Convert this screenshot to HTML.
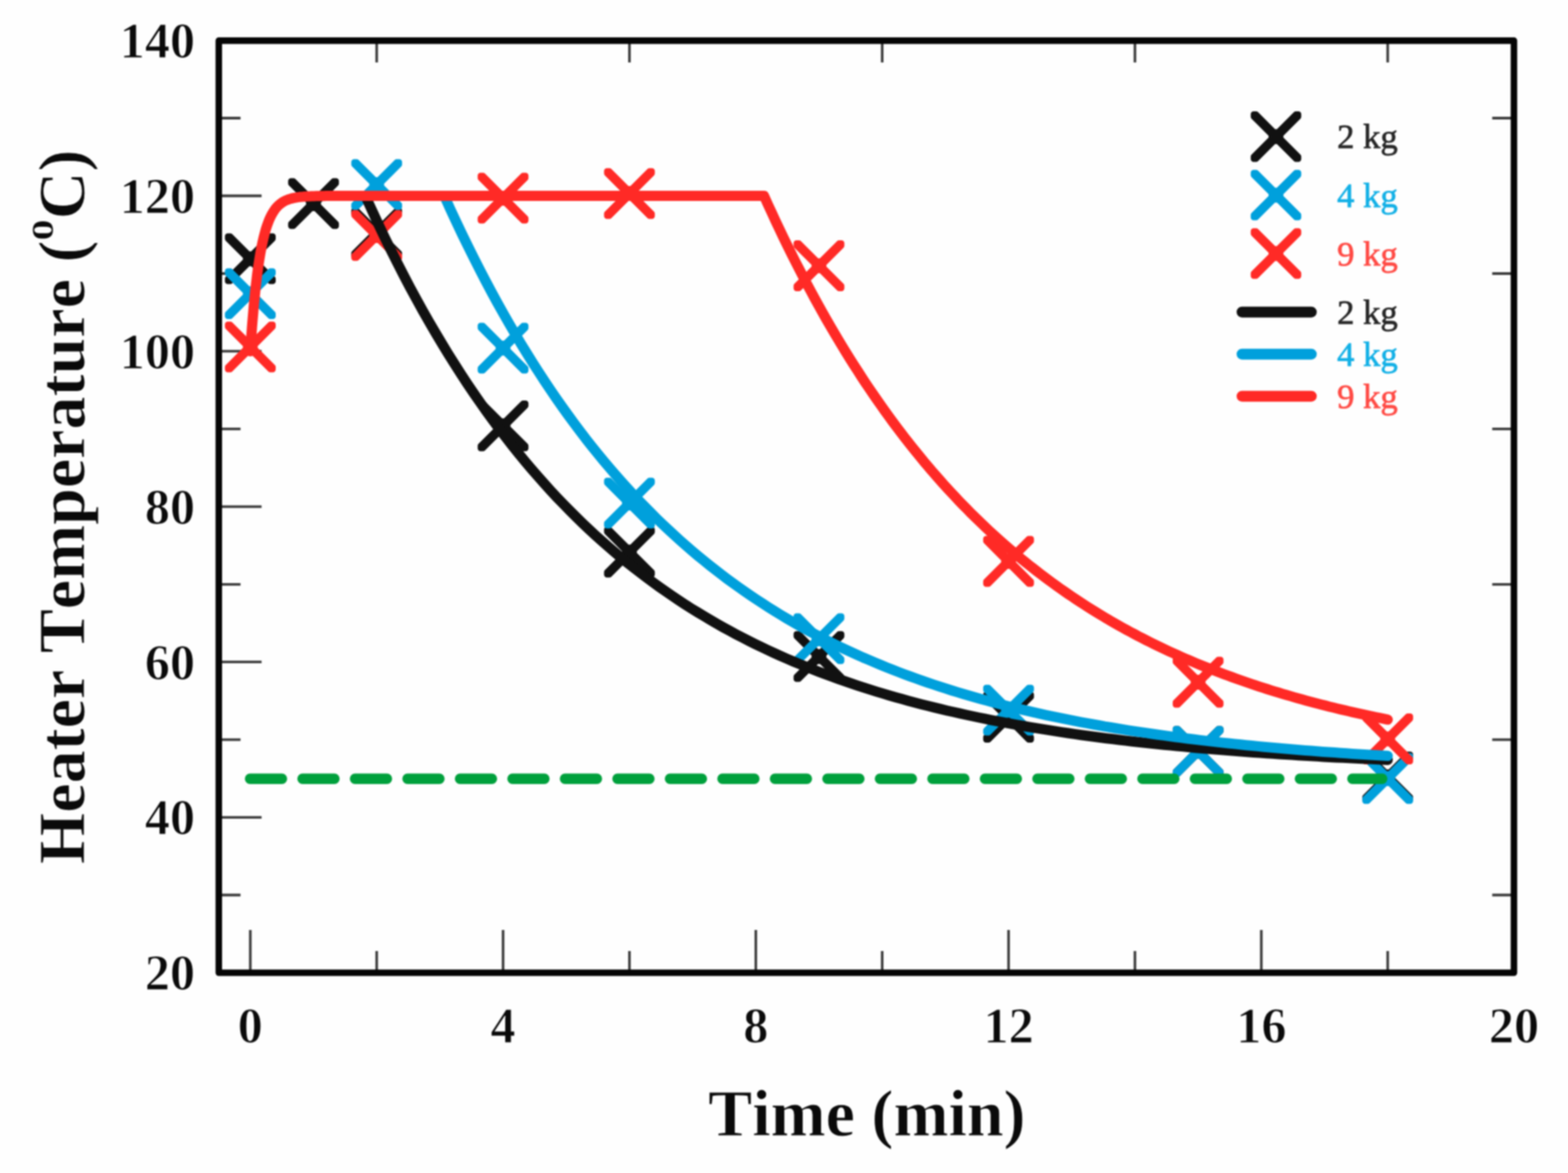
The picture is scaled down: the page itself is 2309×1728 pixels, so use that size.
<!DOCTYPE html>
<html lang="en"><head><meta charset="utf-8"><title>Heater Temperature vs Time</title>
<style>html,body{margin:0;padding:0;background:#fefefe;}body{width:2309px;height:1728px;overflow:hidden;}svg{display:block;filter:blur(0.9px);}text{font-family:"Liberation Serif","Times New Roman",serif;font-kerning:none;}</style>
</head><body>
<svg width="2309" height="1728" viewBox="0 0 2309 1728">
<rect x="0" y="0" width="2309" height="1728" fill="#fefefe"/>
<g stroke="#3a3a3a" stroke-width="3.8" fill="none">
<path d="M368.6,1433.0 V1370.0"/>
<path d="M554.7,1433.0 V1401.0 M554.7,59.9 V91.9"/>
<path d="M740.8,1433.0 V1370.0"/>
<path d="M926.9,1433.0 V1401.0 M926.9,59.9 V91.9"/>
<path d="M1113.0,1433.0 V1370.0"/>
<path d="M1299.1,1433.0 V1401.0 M1299.1,59.9 V91.9"/>
<path d="M1485.2,1433.0 V1370.0"/>
<path d="M1671.3,1433.0 V1401.0 M1671.3,59.9 V91.9"/>
<path d="M1857.4,1433.0 V1370.0"/>
<path d="M2043.5,1433.0 V1401.0 M2043.5,59.9 V91.9"/>
<path d="M322.2,1318.5 H354.2 M2229.4,1318.5 H2197.4"/>
<path d="M322.2,1204.1 H385.2"/>
<path d="M322.2,1089.7 H354.2 M2229.4,1089.7 H2197.4"/>
<path d="M322.2,975.2 H385.2"/>
<path d="M322.2,860.8 H354.2 M2229.4,860.8 H2197.4"/>
<path d="M322.2,746.3 H385.2"/>
<path d="M322.2,631.9 H354.2 M2229.4,631.9 H2197.4"/>
<path d="M322.2,517.4 H385.2"/>
<path d="M322.2,403.0 H354.2 M2229.4,403.0 H2197.4"/>
<path d="M322.2,288.5 H385.2"/>
<path d="M322.2,174.0 H354.2 M2229.4,174.0 H2197.4"/>
</g>
<g fill="#111111" stroke="#111111" stroke-width="8.4" stroke-linejoin="round">
<path d="M335.4,348.0 L339.1,348.0 L401.8,410.7 L401.8,414.4 L398.1,414.4 L335.4,351.7Z M401.8,348.0 L401.8,351.7 L339.1,414.4 L335.4,414.4 L335.4,410.7 L398.1,348.0Z M361.8,381.2 a6.8,6.8 0 1,1 13.6,0 a6.8,6.8 0 1,1 -13.6,0Z"/>
<path d="M428.5,266.7 L432.1,266.7 L494.9,329.5 L494.9,333.1 L491.2,333.1 L428.5,270.4Z M494.9,266.7 L494.9,270.4 L432.1,333.1 L428.5,333.1 L428.5,329.5 L491.2,266.7Z M454.9,299.9 a6.8,6.8 0 1,1 13.6,0 a6.8,6.8 0 1,1 -13.6,0Z"/>
<path d="M521.5,310.2 L525.2,310.2 L587.9,373.0 L587.9,376.6 L584.2,376.6 L521.5,313.9Z M587.9,310.2 L587.9,313.9 L525.2,376.6 L521.5,376.6 L521.5,373.0 L584.2,310.2Z M547.9,343.4 a6.8,6.8 0 1,1 13.6,0 a6.8,6.8 0 1,1 -13.6,0Z"/>
<path d="M707.6,594.1 L711.3,594.1 L774.0,656.8 L774.0,660.5 L770.3,660.5 L707.6,597.7Z M774.0,594.1 L774.0,597.7 L711.3,660.5 L707.6,660.5 L707.6,656.8 L770.3,594.1Z M734.0,627.3 a6.8,6.8 0 1,1 13.6,0 a6.8,6.8 0 1,1 -13.6,0Z"/>
<path d="M893.7,780.1 L897.4,780.1 L960.1,842.8 L960.1,846.5 L956.4,846.5 L893.7,783.7Z M960.1,780.1 L960.1,783.7 L897.4,846.5 L893.7,846.5 L893.7,842.8 L956.4,780.1Z M920.1,813.3 a6.8,6.8 0 1,1 13.6,0 a6.8,6.8 0 1,1 -13.6,0Z"/>
<path d="M1172.8,934.0 L1176.5,934.0 L1239.2,996.7 L1239.2,1000.4 L1235.6,1000.4 L1172.8,937.6Z M1239.2,934.0 L1239.2,937.6 L1176.5,1000.4 L1172.8,1000.4 L1172.8,996.7 L1235.6,934.0Z M1199.2,967.2 a6.8,6.8 0 1,1 13.6,0 a6.8,6.8 0 1,1 -13.6,0Z"/>
<path d="M1452.0,1023.3 L1455.7,1023.3 L1518.4,1086.0 L1518.4,1089.7 L1514.7,1089.7 L1452.0,1026.9Z M1518.4,1023.3 L1518.4,1026.9 L1455.7,1089.7 L1452.0,1089.7 L1452.0,1086.0 L1514.7,1023.3Z M1478.4,1056.5 a6.8,6.8 0 1,1 13.6,0 a6.8,6.8 0 1,1 -13.6,0Z"/>
<path d="M1731.1,1073.6 L1734.8,1073.6 L1797.5,1136.4 L1797.5,1140.0 L1793.9,1140.0 L1731.1,1077.3Z M1797.5,1073.6 L1797.5,1077.3 L1734.8,1140.0 L1731.1,1140.0 L1731.1,1136.4 L1793.9,1073.6Z M1757.5,1106.8 a6.8,6.8 0 1,1 13.6,0 a6.8,6.8 0 1,1 -13.6,0Z"/>
<path d="M2010.3,1111.4 L2014.0,1111.4 L2076.7,1174.1 L2076.7,1177.8 L2073.0,1177.8 L2010.3,1115.0Z M2076.7,1111.4 L2076.7,1115.0 L2014.0,1177.8 L2010.3,1177.8 L2010.3,1174.1 L2073.0,1111.4Z M2036.7,1144.6 a6.8,6.8 0 1,1 13.6,0 a6.8,6.8 0 1,1 -13.6,0Z"/>
</g>
<g fill="#00a0dc" stroke="#00a0dc" stroke-width="8.4" stroke-linejoin="round">
<path d="M335.4,399.5 L339.1,399.5 L401.8,462.2 L401.8,465.9 L398.1,465.9 L335.4,403.2Z M401.8,399.5 L401.8,403.2 L339.1,465.9 L335.4,465.9 L335.4,462.2 L398.1,399.5Z M361.8,432.7 a6.8,6.8 0 1,1 13.6,0 a6.8,6.8 0 1,1 -13.6,0Z"/>
<path d="M521.5,238.7 L525.2,238.7 L587.9,301.4 L587.9,305.1 L584.2,305.1 L521.5,242.4Z M587.9,238.7 L587.9,242.4 L525.2,305.1 L521.5,305.1 L521.5,301.4 L584.2,238.7Z M547.9,271.9 a6.8,6.8 0 1,1 13.6,0 a6.8,6.8 0 1,1 -13.6,0Z"/>
<path d="M707.6,479.6 L711.3,479.6 L774.0,542.4 L774.0,546.0 L770.3,546.0 L707.6,483.3Z M774.0,479.6 L774.0,483.3 L711.3,546.0 L707.6,546.0 L707.6,542.4 L770.3,479.6Z M734.0,512.8 a6.8,6.8 0 1,1 13.6,0 a6.8,6.8 0 1,1 -13.6,0Z"/>
<path d="M893.7,707.9 L897.4,707.9 L960.1,770.7 L960.1,774.3 L956.4,774.3 L893.7,711.6Z M960.1,707.9 L960.1,711.6 L897.4,774.3 L893.7,774.3 L893.7,770.7 L956.4,707.9Z M920.1,741.1 a6.8,6.8 0 1,1 13.6,0 a6.8,6.8 0 1,1 -13.6,0Z"/>
<path d="M1172.8,907.7 L1176.5,907.7 L1239.2,970.4 L1239.2,974.1 L1235.6,974.1 L1172.8,911.3Z M1239.2,907.7 L1239.2,911.3 L1176.5,974.1 L1172.8,974.1 L1172.8,970.4 L1235.6,907.7Z M1199.2,940.9 a6.8,6.8 0 1,1 13.6,0 a6.8,6.8 0 1,1 -13.6,0Z"/>
<path d="M1452.0,1013.0 L1455.7,1013.0 L1518.4,1075.7 L1518.4,1079.4 L1514.7,1079.4 L1452.0,1016.6Z M1518.4,1013.0 L1518.4,1016.6 L1455.7,1079.4 L1452.0,1079.4 L1452.0,1075.7 L1514.7,1013.0Z M1478.4,1046.2 a6.8,6.8 0 1,1 13.6,0 a6.8,6.8 0 1,1 -13.6,0Z"/>
<path d="M1731.1,1073.6 L1734.8,1073.6 L1797.5,1136.4 L1797.5,1140.0 L1793.9,1140.0 L1731.1,1077.3Z M1797.5,1073.6 L1797.5,1077.3 L1734.8,1140.0 L1731.1,1140.0 L1731.1,1136.4 L1793.9,1073.6Z M1757.5,1106.8 a6.8,6.8 0 1,1 13.6,0 a6.8,6.8 0 1,1 -13.6,0Z"/>
<path d="M2010.3,1113.7 L2014.0,1113.7 L2076.7,1176.4 L2076.7,1180.1 L2073.0,1180.1 L2010.3,1117.3Z M2076.7,1113.7 L2076.7,1117.3 L2014.0,1180.1 L2010.3,1180.1 L2010.3,1176.4 L2073.0,1113.7Z M2036.7,1146.9 a6.8,6.8 0 1,1 13.6,0 a6.8,6.8 0 1,1 -13.6,0Z"/>
</g>
<g fill="#ff2a26" stroke="#ff2a26" stroke-width="8.4" stroke-linejoin="round">
<path d="M335.4,477.9 L339.1,477.9 L401.8,540.6 L401.8,544.3 L398.1,544.3 L335.4,481.6Z M401.8,477.9 L401.8,481.6 L339.1,544.3 L335.4,544.3 L335.4,540.6 L398.1,477.9Z M361.8,511.1 a6.8,6.8 0 1,1 13.6,0 a6.8,6.8 0 1,1 -13.6,0Z"/>
<path d="M521.5,313.7 L525.2,313.7 L587.9,376.4 L587.9,380.1 L584.2,380.1 L521.5,317.3Z M587.9,313.7 L587.9,317.3 L525.2,380.1 L521.5,380.1 L521.5,376.4 L584.2,313.7Z M547.9,346.9 a6.8,6.8 0 1,1 13.6,0 a6.8,6.8 0 1,1 -13.6,0Z"/>
<path d="M707.6,258.7 L711.3,258.7 L774.0,321.5 L774.0,325.1 L770.3,325.1 L707.6,262.4Z M774.0,258.7 L774.0,262.4 L711.3,325.1 L707.6,325.1 L707.6,321.5 L770.3,258.7Z M734.0,291.9 a6.8,6.8 0 1,1 13.6,0 a6.8,6.8 0 1,1 -13.6,0Z"/>
<path d="M893.7,251.9 L897.4,251.9 L960.1,314.6 L960.1,318.3 L956.4,318.3 L893.7,255.5Z M960.1,251.9 L960.1,255.5 L897.4,318.3 L893.7,318.3 L893.7,314.6 L956.4,251.9Z M920.1,285.1 a6.8,6.8 0 1,1 13.6,0 a6.8,6.8 0 1,1 -13.6,0Z"/>
<path d="M1172.8,358.3 L1176.5,358.3 L1239.2,421.0 L1239.2,424.7 L1235.6,424.7 L1172.8,362.0Z M1239.2,358.3 L1239.2,362.0 L1176.5,424.7 L1172.8,424.7 L1172.8,421.0 L1235.6,358.3Z M1199.2,391.5 a6.8,6.8 0 1,1 13.6,0 a6.8,6.8 0 1,1 -13.6,0Z"/>
<path d="M1452.0,793.8 L1455.7,793.8 L1518.4,856.5 L1518.4,860.2 L1514.7,860.2 L1452.0,797.4Z M1518.4,793.8 L1518.4,797.4 L1455.7,860.2 L1452.0,860.2 L1452.0,856.5 L1514.7,793.8Z M1478.4,827.0 a6.8,6.8 0 1,1 13.6,0 a6.8,6.8 0 1,1 -13.6,0Z"/>
<path d="M1731.1,971.8 L1734.8,971.8 L1797.5,1034.5 L1797.5,1038.2 L1793.9,1038.2 L1731.1,975.4Z M1797.5,971.8 L1797.5,975.4 L1734.8,1038.2 L1731.1,1038.2 L1731.1,1034.5 L1793.9,971.8Z M1757.5,1005.0 a6.8,6.8 0 1,1 13.6,0 a6.8,6.8 0 1,1 -13.6,0Z"/>
<path d="M2010.3,1055.3 L2014.0,1055.3 L2076.7,1118.0 L2076.7,1121.7 L2073.0,1121.7 L2010.3,1059.0Z M2076.7,1055.3 L2076.7,1059.0 L2014.0,1121.7 L2010.3,1121.7 L2010.3,1118.0 L2073.0,1055.3Z M2036.7,1088.5 a6.8,6.8 0 1,1 13.6,0 a6.8,6.8 0 1,1 -13.6,0Z"/>
</g>
<g fill="none" stroke-width="15.0" stroke-linecap="round" stroke-linejoin="round">
<path stroke="#111111" d="M538.0,288.5 L547.4,309.2 L556.8,329.5 L566.2,349.2 L575.6,368.4 L585.0,387.2 L594.4,405.5 L603.8,423.4 L613.2,440.8 L622.6,457.8 L632.0,474.4 L641.5,490.6 L650.9,506.4 L660.3,521.8 L669.7,536.8 L679.1,551.5 L688.5,565.8 L697.9,579.7 L707.3,593.3 L716.7,606.6 L726.1,619.5 L735.6,632.2 L745.0,644.5 L754.4,656.5 L763.8,668.2 L773.2,679.7 L782.6,690.8 L792.0,701.7 L801.4,712.3 L810.8,722.7 L820.2,732.8 L829.7,742.6 L839.1,752.3 L848.5,761.6 L857.9,770.8 L867.3,779.7 L876.7,788.4 L886.1,796.9 L895.5,805.2 L904.9,813.3 L914.3,821.2 L923.7,828.9 L933.2,836.4 L942.6,843.7 L952.0,850.8 L961.4,857.8 L970.8,864.6 L980.2,871.2 L989.6,877.7 L999.0,884.0 L1008.4,890.2 L1017.8,896.2 L1027.3,902.0 L1036.7,907.7 L1046.1,913.3 L1055.5,918.8 L1064.9,924.1 L1074.3,929.2 L1083.7,934.3 L1093.1,939.2 L1102.5,944.0 L1111.9,948.7 L1121.4,953.3 L1130.8,957.7 L1140.2,962.1 L1149.6,966.3 L1159.0,970.5 L1168.4,974.5 L1177.8,978.4 L1187.2,982.3 L1196.6,986.0 L1206.0,989.7 L1215.4,993.3 L1224.9,996.7 L1234.3,1000.1 L1243.7,1003.4 L1253.1,1006.7 L1262.5,1009.8 L1271.9,1012.9 L1281.3,1015.9 L1290.7,1018.8 L1300.1,1021.7 L1309.5,1024.5 L1319.0,1027.2 L1328.4,1029.8 L1337.8,1032.4 L1347.2,1034.9 L1356.6,1037.4 L1366.0,1039.8 L1375.4,1042.1 L1384.8,1044.4 L1394.2,1046.7 L1403.6,1048.8 L1413.1,1050.9 L1422.5,1053.0 L1431.9,1055.0 L1441.3,1057.0 L1450.7,1058.9 L1460.1,1060.8 L1469.5,1062.6 L1478.9,1064.4 L1488.3,1066.1 L1497.7,1067.8 L1507.1,1069.5 L1516.6,1071.1 L1526.0,1072.7 L1535.4,1074.2 L1544.8,1075.7 L1554.2,1077.2 L1563.6,1078.6 L1573.0,1080.0 L1582.4,1081.4 L1591.8,1082.7 L1601.2,1084.0 L1610.7,1085.2 L1620.1,1086.5 L1629.5,1087.7 L1638.9,1088.8 L1648.3,1090.0 L1657.7,1091.1 L1667.1,1092.2 L1676.5,1093.2 L1685.9,1094.3 L1695.3,1095.3 L1704.8,1096.2 L1714.2,1097.2 L1723.6,1098.1 L1733.0,1099.1 L1742.4,1099.9 L1751.8,1100.8 L1761.2,1101.7 L1770.6,1102.5 L1780.0,1103.3 L1789.4,1104.1 L1798.8,1104.8 L1808.3,1105.6 L1817.7,1106.3 L1827.1,1107.0 L1836.5,1107.7 L1845.9,1108.4 L1855.3,1109.1 L1864.7,1109.7 L1874.1,1110.3 L1883.5,1111.0 L1892.9,1111.6 L1902.4,1112.1 L1911.8,1112.7 L1921.2,1113.3 L1930.6,1113.8 L1940.0,1114.3 L1949.4,1114.9 L1958.8,1115.4 L1968.2,1115.9 L1977.6,1116.3 L1987.0,1116.8 L1996.5,1117.3 L2005.9,1117.7 L2015.3,1118.1 L2024.7,1118.6 L2034.1,1119.0 L2043.5,1119.4"/>
<path stroke="#00a0dc" d="M654.3,288.5 L662.9,307.7 L671.6,326.4 L680.3,344.7 L689.0,362.5 L697.7,380.0 L706.4,397.1 L715.0,413.8 L723.7,430.1 L732.4,446.1 L741.1,461.6 L749.8,476.9 L758.5,491.8 L767.1,506.3 L775.8,520.5 L784.5,534.5 L793.2,548.0 L801.9,561.3 L810.6,574.3 L819.2,587.0 L827.9,599.4 L836.6,611.5 L845.3,623.4 L854.0,634.9 L862.6,646.3 L871.3,657.3 L880.0,668.1 L888.7,678.7 L897.4,689.0 L906.1,699.1 L914.7,709.0 L923.4,718.6 L932.1,728.0 L940.8,737.3 L949.5,746.3 L958.2,755.1 L966.8,763.7 L975.5,772.1 L984.2,780.3 L992.9,788.3 L1001.6,796.2 L1010.3,803.8 L1018.9,811.3 L1027.6,818.7 L1036.3,825.8 L1045.0,832.8 L1053.7,839.7 L1062.4,846.4 L1071.0,852.9 L1079.7,859.3 L1088.4,865.5 L1097.1,871.6 L1105.8,877.6 L1114.4,883.4 L1123.1,889.1 L1131.8,894.7 L1140.5,900.1 L1149.2,905.5 L1157.9,910.7 L1166.5,915.7 L1175.2,920.7 L1183.9,925.6 L1192.6,930.3 L1201.3,934.9 L1210.0,939.5 L1218.6,943.9 L1227.3,948.2 L1236.0,952.5 L1244.7,956.6 L1253.4,960.6 L1262.1,964.6 L1270.7,968.5 L1279.4,972.2 L1288.1,975.9 L1296.8,979.5 L1305.5,983.1 L1314.2,986.5 L1322.8,989.9 L1331.5,993.2 L1340.2,996.4 L1348.9,999.5 L1357.6,1002.6 L1366.2,1005.6 L1374.9,1008.5 L1383.6,1011.4 L1392.3,1014.2 L1401.0,1017.0 L1409.7,1019.6 L1418.3,1022.2 L1427.0,1024.8 L1435.7,1027.3 L1444.4,1029.8 L1453.1,1032.1 L1461.8,1034.5 L1470.4,1036.8 L1479.1,1039.0 L1487.8,1041.2 L1496.5,1043.3 L1505.2,1045.4 L1513.9,1047.4 L1522.5,1049.4 L1531.2,1051.4 L1539.9,1053.3 L1548.6,1055.1 L1557.3,1056.9 L1565.9,1058.7 L1574.6,1060.4 L1583.3,1062.1 L1592.0,1063.8 L1600.7,1065.4 L1609.4,1067.0 L1618.0,1068.5 L1626.7,1070.1 L1635.4,1071.5 L1644.1,1073.0 L1652.8,1074.4 L1661.5,1075.8 L1670.1,1077.1 L1678.8,1078.4 L1687.5,1079.7 L1696.2,1081.0 L1704.9,1082.2 L1713.6,1083.4 L1722.2,1084.6 L1730.9,1085.7 L1739.6,1086.9 L1748.3,1088.0 L1757.0,1089.0 L1765.7,1090.1 L1774.3,1091.1 L1783.0,1092.1 L1791.7,1093.1 L1800.4,1094.1 L1809.1,1095.0 L1817.7,1095.9 L1826.4,1096.8 L1835.1,1097.7 L1843.8,1098.5 L1852.5,1099.4 L1861.2,1100.2 L1869.8,1101.0 L1878.5,1101.8 L1887.2,1102.5 L1895.9,1103.3 L1904.6,1104.0 L1913.3,1104.7 L1921.9,1105.4 L1930.6,1106.1 L1939.3,1106.7 L1948.0,1107.4 L1956.7,1108.0 L1965.4,1108.6 L1974.0,1109.2 L1982.7,1109.8 L1991.4,1110.4 L2000.1,1111.0 L2008.8,1111.5 L2017.5,1112.1 L2026.1,1112.6 L2034.8,1113.1 L2043.5,1113.6"/>
<path stroke="#ff2a26" d="M368.6,517.4 L368.6,516.9 L368.7,515.5 L368.9,513.1 L369.1,509.9 L369.4,505.8 L369.7,500.9 L370.1,495.2 L370.6,488.8 L371.1,481.9 L371.7,474.4 L372.4,466.4 L373.1,458.1 L373.8,449.5 L374.7,440.7 L375.6,431.7 L376.5,422.8 L377.6,413.9 L378.6,405.0 L379.8,396.4 L381.0,388.0 L382.3,379.8 L383.6,372.0 L385.0,364.5 L386.5,357.4 L388.0,350.8 L389.6,344.5 L391.2,338.6 L392.9,333.2 L394.7,328.2 L396.5,323.6 L398.4,319.4 L400.4,315.6 L402.4,312.2 L404.5,309.1 L406.6,306.3 L408.8,303.9 L411.1,301.7 L413.4,299.8 L415.8,298.1 L418.2,296.7 L420.7,295.4 L423.3,294.3 L425.9,293.4 L428.6,292.6 L431.4,291.9 L434.2,291.3 L437.1,290.8 L440.1,290.4 L443.1,290.0 L446.1,289.8 L449.3,289.5 L452.5,289.3 L455.7,289.2 L459.0,289.0 L462.4,288.9 L465.9,288.8 L469.4,288.8 L472.9,288.7 L476.6,288.7 L480.3,288.6 L1125.1,288.5 L1130.8,301.2 L1136.6,313.7 L1142.3,326.1 L1148.1,338.2 L1153.8,350.2 L1159.5,361.9 L1165.3,373.6 L1171.0,385.0 L1176.8,396.2 L1182.5,407.3 L1188.2,418.3 L1194.0,429.0 L1199.7,439.6 L1205.5,450.1 L1211.2,460.4 L1216.9,470.5 L1222.7,480.5 L1228.4,490.3 L1234.2,500.0 L1239.9,509.5 L1245.6,518.9 L1251.4,528.2 L1257.1,537.3 L1262.9,546.2 L1268.6,555.1 L1274.3,563.8 L1280.1,572.4 L1285.8,580.8 L1291.6,589.1 L1297.3,597.3 L1303.0,605.4 L1308.8,613.4 L1314.5,621.2 L1320.3,628.9 L1326.0,636.5 L1331.7,644.0 L1337.5,651.4 L1343.2,658.6 L1349.0,665.8 L1354.7,672.8 L1360.4,679.8 L1366.2,686.6 L1371.9,693.4 L1377.7,700.0 L1383.4,706.5 L1389.1,713.0 L1394.9,719.3 L1400.6,725.5 L1406.4,731.7 L1412.1,737.8 L1417.8,743.7 L1423.6,749.6 L1429.3,755.4 L1435.1,761.1 L1440.8,766.7 L1446.5,772.2 L1452.3,777.7 L1458.0,783.1 L1463.8,788.3 L1469.5,793.6 L1475.2,798.7 L1481.0,803.7 L1486.7,808.7 L1492.5,813.6 L1498.2,818.4 L1503.9,823.2 L1509.7,827.9 L1515.4,832.5 L1521.2,837.0 L1526.9,841.5 L1532.6,845.9 L1538.4,850.3 L1544.1,854.6 L1549.9,858.8 L1555.6,862.9 L1561.3,867.0 L1567.1,871.0 L1572.8,875.0 L1578.6,878.9 L1584.3,882.8 L1590.0,886.6 L1595.8,890.3 L1601.5,894.0 L1607.3,897.6 L1613.0,901.2 L1618.7,904.7 L1624.5,908.1 L1630.2,911.6 L1636.0,914.9 L1641.7,918.2 L1647.4,921.5 L1653.2,924.7 L1658.9,927.9 L1664.7,931.0 L1670.4,934.0 L1676.1,937.1 L1681.9,940.0 L1687.6,943.0 L1693.4,945.9 L1699.1,948.7 L1704.8,951.5 L1710.6,954.3 L1716.3,957.0 L1722.1,959.7 L1727.8,962.3 L1733.5,964.9 L1739.3,967.5 L1745.0,970.0 L1750.8,972.5 L1756.5,974.9 L1762.2,977.3 L1768.0,979.7 L1773.7,982.0 L1779.5,984.3 L1785.2,986.6 L1790.9,988.8 L1796.7,991.0 L1802.4,993.2 L1808.2,995.3 L1813.9,997.4 L1819.6,999.5 L1825.4,1001.5 L1831.1,1003.5 L1836.9,1005.5 L1842.6,1007.5 L1848.3,1009.4 L1854.1,1011.3 L1859.8,1013.1 L1865.6,1015.0 L1871.3,1016.8 L1877.0,1018.6 L1882.8,1020.3 L1888.5,1022.1 L1894.3,1023.8 L1900.0,1025.4 L1905.7,1027.1 L1911.5,1028.7 L1917.2,1030.3 L1923.0,1031.9 L1928.7,1033.4 L1934.4,1035.0 L1940.2,1036.5 L1945.9,1038.0 L1951.7,1039.4 L1957.4,1040.9 L1963.1,1042.3 L1968.9,1043.7 L1974.6,1045.1 L1980.4,1046.4 L1986.1,1047.7 L1991.8,1049.1 L1997.6,1050.4 L2003.3,1051.6 L2009.1,1052.9 L2014.8,1054.1 L2020.5,1055.4 L2026.3,1056.6 L2032.0,1057.7 L2037.8,1058.9 L2043.5,1060.1"/>
</g>
<path d="M368.3,1147.3 H2035.3" stroke="#00a03c" stroke-width="15.5" stroke-linecap="round" stroke-dasharray="46.8 30.5" fill="none"/>
<rect x="322.2" y="59.9" width="1907.2" height="1373.1" fill="none" stroke="#050505" stroke-width="9.6" stroke-linejoin="round"/>
<g font-weight="bold" font-size="74" fill="#0a0a0a" stroke="#fefefe" stroke-width="1.2">
<text x="287.2" y="1458.3" text-anchor="end">20</text>
<text x="287.2" y="1229.4" text-anchor="end">40</text>
<text x="287.2" y="1000.5" text-anchor="end">60</text>
<text x="287.2" y="771.6" text-anchor="end">80</text>
<text x="287.2" y="542.7" text-anchor="end">100</text>
<text x="287.2" y="313.8" text-anchor="end">120</text>
<text x="287.2" y="84.9" text-anchor="end">140</text>
<text x="368.6" y="1535.6" text-anchor="middle">0</text>
<text x="740.8" y="1535.6" text-anchor="middle">4</text>
<text x="1113.0" y="1535.6" text-anchor="middle">8</text>
<text x="1485.2" y="1535.6" text-anchor="middle">12</text>
<text x="1857.4" y="1535.6" text-anchor="middle">16</text>
<text x="2229.6" y="1535.6" text-anchor="middle">20</text>
</g>
<text x="1276.5" y="1672.5" text-anchor="middle" font-weight="bold" font-size="97.3" fill="#0a0a0a" stroke="#fefefe" stroke-width="1.0">Time (min)</text>
<text transform="translate(124,746.6) rotate(-90)" text-anchor="middle" font-weight="bold" font-size="97.3" fill="#0a0a0a" stroke="#fefefe" stroke-width="1.0">Heater Temperature (<tspan font-size="63" dy="-46">o</tspan><tspan dy="46">C)</tspan></text>
<path d="M1846.0,168.3 L1849.7,168.3 L1912.0,230.6 L1912.0,234.3 L1908.3,234.3 L1846.0,172.0Z M1912.0,168.3 L1912.0,172.0 L1849.7,234.3 L1846.0,234.3 L1846.0,230.6 L1908.3,168.3Z M1872.2,201.3 a6.8,6.8 0 1,1 13.6,0 a6.8,6.8 0 1,1 -13.6,0Z" fill="#111111" stroke="#111111" stroke-width="8.4" stroke-linejoin="round"/>
<path d="M1846.0,254.4 L1849.7,254.4 L1912.0,316.7 L1912.0,320.4 L1908.3,320.4 L1846.0,258.1Z M1912.0,254.4 L1912.0,258.1 L1849.7,320.4 L1846.0,320.4 L1846.0,316.7 L1908.3,254.4Z M1872.2,287.4 a6.8,6.8 0 1,1 13.6,0 a6.8,6.8 0 1,1 -13.6,0Z" fill="#00a0dc" stroke="#00a0dc" stroke-width="8.4" stroke-linejoin="round"/>
<path d="M1846.0,340.5 L1849.7,340.5 L1912.0,402.8 L1912.0,406.5 L1908.3,406.5 L1846.0,344.2Z M1912.0,340.5 L1912.0,344.2 L1849.7,406.5 L1846.0,406.5 L1846.0,402.8 L1908.3,340.5Z M1872.2,373.5 a6.8,6.8 0 1,1 13.6,0 a6.8,6.8 0 1,1 -13.6,0Z" fill="#ff2a26" stroke="#ff2a26" stroke-width="8.4" stroke-linejoin="round"/>
<text x="1969" y="218.3" font-size="51" fill="#262626" stroke="#262626" stroke-width="0.9">2 kg</text>
<text x="1969" y="304.6" font-size="51" fill="#12b0e6" stroke="#12b0e6" stroke-width="0.9">4 kg</text>
<text x="1969" y="390.9" font-size="51" fill="#ff4a44" stroke="#ff4a44" stroke-width="0.9">9 kg</text>
<path d="M1829,459.7 H1931" stroke="#111111" stroke-width="16" stroke-linecap="round" fill="none"/>
<text x="1969" y="476.9" font-size="51" fill="#262626" stroke="#262626" stroke-width="0.9">2 kg</text>
<path d="M1829,521.7 H1931" stroke="#00a0dc" stroke-width="16" stroke-linecap="round" fill="none"/>
<text x="1969" y="538.9" font-size="51" fill="#12b0e6" stroke="#12b0e6" stroke-width="0.9">4 kg</text>
<path d="M1829,583.7 H1931" stroke="#ff2a26" stroke-width="16" stroke-linecap="round" fill="none"/>
<text x="1969" y="600.9" font-size="51" fill="#ff4a44" stroke="#ff4a44" stroke-width="0.9">9 kg</text>
</svg>
</body></html>
